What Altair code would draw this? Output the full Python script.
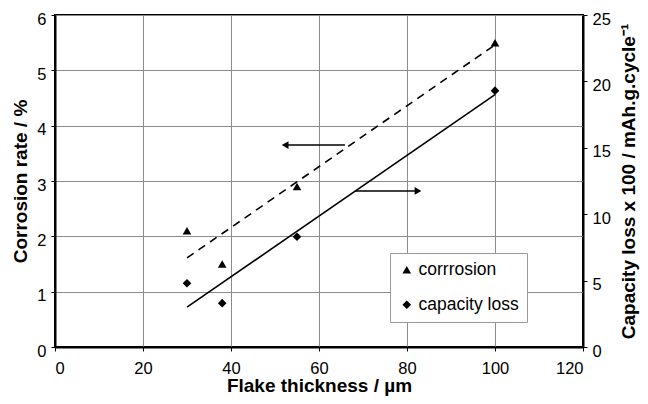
import altair as alt
import pandas as pd

# data
thickness = [30, 38, 55, 100]
corrosion = [2.1, 1.5, 2.9, 5.5]
capacity_loss = [4.8, 3.3, 8.3, 19.3]

corr_fit_x = [30, 100]
corr_fit_y = [1.61, 5.46]
cap_fit_x = [30, 100]
cap_fit_y = [3.0, 19.0]

arrow_left_x = [52.3, 65.9]
arrow_left_y = [3.65, 3.65]
arrow_right_x = [68.2, 82.5]
arrow_right_y = [2.82, 2.82]

series_names = ["corrrosion", "capacity loss"]

FONT = "Liberation Sans"

df_corr = pd.DataFrame({"x": thickness, "y": corrosion, "s": series_names[0]})
df_cap = pd.DataFrame({"x": thickness, "y": capacity_loss, "s": series_names[1]})
df_cfit = pd.DataFrame({"x": corr_fit_x, "y": corr_fit_y})
df_kfit = pd.DataFrame({"x": cap_fit_x, "y": cap_fit_y})
df_al = pd.DataFrame({"x": [arrow_left_x[0]], "x2": [arrow_left_x[1]], "y": [arrow_left_y[0]]})
df_ar = pd.DataFrame({"x": [arrow_right_x[0]], "x2": [arrow_right_x[1]], "y": [arrow_right_y[0]]})

x_enc = alt.X("x:Q", scale=alt.Scale(domain=[0, 120], nice=False),
              axis=alt.Axis(title="Flake thickness / µm", values=list(range(0, 121, 20)),
                            grid=True, labelPadding=9, titlePadding=0))
yl_scale = alt.Scale(domain=[0, 6], nice=False)
yl_axis = alt.Axis(title="Corrosion rate / %", values=list(range(0, 7)), grid=True,
                   titlePadding=6, labelPadding=5, labelOffset=4)
yr_scale = alt.Scale(domain=[0, 25], nice=False)
yr_axis = alt.Axis(title="Capacity loss x 100 / mAh.g.cycle⁻¹", orient="right",
                   values=list(range(0, 26, 5)), grid=False, titleAngle=270,
                   titleBaseline="top", titlePadding=9, labelPadding=5, labelOffset=4)

shape_enc = alt.Shape("s:N", scale=alt.Scale(domain=series_names,
                                             range=["triangle-up", "diamond"]),
                      legend=alt.Legend(title=None, orient="none", legendX=335, legendY=238,
                                        fillColor="white", strokeColor="#999999",
                                        padding=8, rowPadding=16, labelFontSize=17.5,
                                        labelFont=FONT, symbolSize=75,
                                        symbolFillColor="black", symbolStrokeColor="black",
                                        labelOffset=3))

y_l = alt.Y("y:Q", scale=yl_scale, axis=yl_axis)
y_r = alt.Y("y:Q", scale=yr_scale, axis=yr_axis)

corr_pts = alt.Chart(df_corr).mark_point(filled=True, color="black", size=75, opacity=1).encode(
    x=x_enc, y=y_l, shape=shape_enc)
corr_line = alt.Chart(df_cfit).mark_line(color="black", strokeDash=[8, 6], strokeWidth=1.6).encode(
    x=x_enc, y=y_l)
al_rule = alt.Chart(df_al).mark_rule(color="black", strokeWidth=1.5).encode(
    x=x_enc, x2="x2:Q", y=y_l)
al_head = alt.Chart(df_al).mark_point(shape="triangle-left", filled=True, color="black",
                                      size=60, opacity=1).encode(x=x_enc, y=y_l)
ar_rule = alt.Chart(df_ar).mark_rule(color="black", strokeWidth=1.5).encode(
    x=x_enc, x2="x2:Q", y=y_l)
ar_head = alt.Chart(df_ar).mark_point(shape="triangle-right", filled=True, color="black",
                                      size=60, opacity=1).encode(x="x2:Q", y=y_l)

left = alt.layer(corr_line, al_rule, ar_rule, al_head, ar_head, corr_pts)

cap_pts = alt.Chart(df_cap).mark_point(filled=True, color="black", size=75, opacity=1).encode(
    x=x_enc, y=y_r, shape=shape_enc)
cap_line = alt.Chart(df_kfit).mark_line(color="black", strokeWidth=1.6).encode(
    x=x_enc, y=y_r)
right = alt.layer(cap_line, cap_pts)

chart = alt.layer(left, right).resolve_scale(y="independent").properties(
    width=528, height=332,
    autosize=alt.AutoSizeParams(type="none"),
    padding={"left": 47, "top": 7, "right": 57, "bottom": 49},
).configure_view(stroke="black", strokeWidth=2).configure_axis(
    labelFont=FONT, titleFont=FONT, labelFontSize=16.5, titleFontSize=19,
    titleFontWeight="bold", labelColor="black", titleColor="black",
    domainColor="black", domainWidth=2, tickColor="black", tickSize=4,
    gridColor="#8c8c8c", gridWidth=1, gridOpacity=1,
)

chart.save("out.html", embed_options={"renderer": "svg", "actions": False})
